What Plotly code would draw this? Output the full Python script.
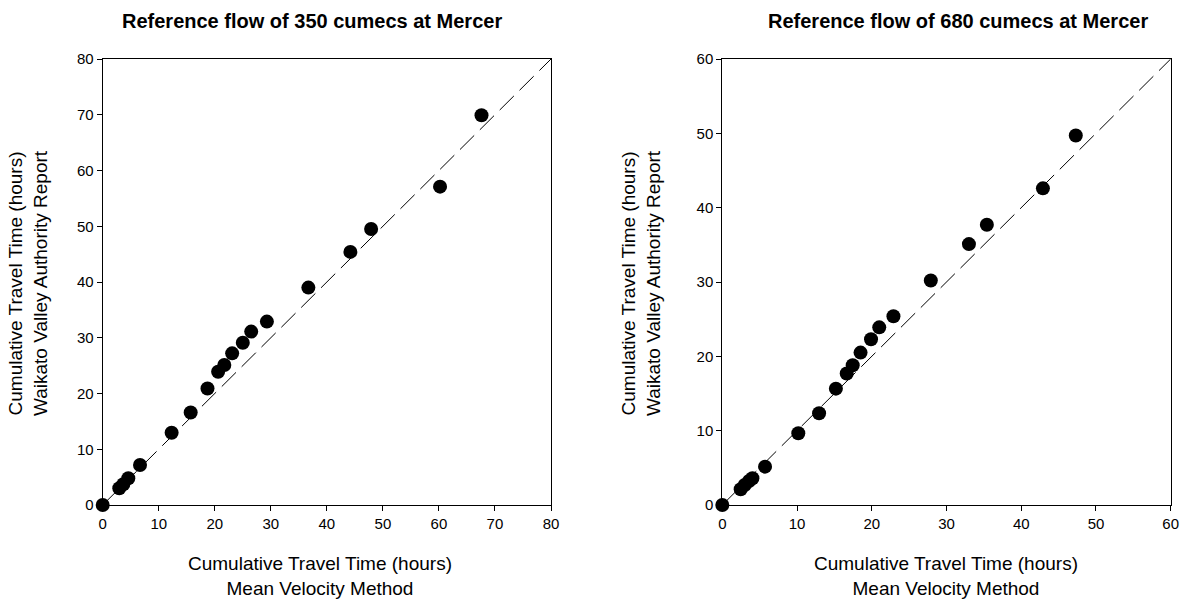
import plotly.graph_objects as go

# Left panel: 350 cumecs
mv_350 = [0, 2.96, 3.68, 4.57, 6.66, 12.3, 15.7, 18.7, 20.6, 21.7, 23.1, 25.0, 26.5, 29.3, 36.7, 44.2, 47.9, 60.2, 67.6]
wva_350 = [0, 3.0, 3.71, 4.79, 7.17, 12.97, 16.6, 20.9, 23.9, 25.1, 27.2, 29.1, 31.1, 32.9, 39.0, 45.4, 49.5, 57.1, 69.9]

# Right panel: 680 cumecs
mv_680 = [0, 2.46, 3.0, 3.58, 4.03, 5.72, 10.17, 12.95, 15.2, 16.65, 17.45, 18.5, 19.9, 21.0, 22.9, 27.9, 33.0, 35.4, 42.9, 47.3]
wva_680 = [0, 2.11, 2.7, 3.23, 3.59, 5.16, 9.65, 12.35, 15.65, 17.7, 18.8, 20.5, 22.3, 23.9, 25.4, 30.2, 35.1, 37.7, 42.6, 49.7]

range_350 = [0, 80]
range_680 = [0, 60]
ticks_350 = [0, 10, 20, 30, 40, 50, 60, 70, 80]
ticks_680 = [0, 10, 20, 30, 40, 50, 60]

title_350 = "Reference flow of 350 cumecs at Mercer"
title_680 = "Reference flow of 680 cumecs at Mercer"
x_title = "Cumulative Travel Time (hours)<br>Mean Velocity Method"
y_title = "Cumulative Travel Time (hours)<br>Waikato Valley Authority Report"

W, H = 1202, 600
FONT = "Liberation Sans, Arial, sans-serif"

fig = go.Figure()

# 1:1 lines
fig.add_trace(go.Scatter(x=range_350, y=range_350, mode="lines",
                         line=dict(color="black", width=1, dash="20px,8px"),
                         xaxis="x", yaxis="y", hoverinfo="skip", showlegend=False))
fig.add_trace(go.Scatter(x=range_680, y=range_680, mode="lines",
                         line=dict(color="black", width=1, dash="20px,8px"),
                         xaxis="x2", yaxis="y2", hoverinfo="skip", showlegend=False))

# points
fig.add_trace(go.Scatter(x=mv_350, y=wva_350, mode="markers",
                         marker=dict(color="black", size=14, symbol="circle"),
                         xaxis="x", yaxis="y", cliponaxis=False, showlegend=False))
fig.add_trace(go.Scatter(x=mv_680, y=wva_680, mode="markers",
                         marker=dict(color="black", size=14, symbol="circle"),
                         xaxis="x2", yaxis="y2", cliponaxis=False, showlegend=False))

def px_x(p):
    return p / W

def px_y(p):
    return 1 - p / H

axis_common = dict(showgrid=False, zeroline=False, showline=True, linecolor="black",
                   linewidth=1, mirror=True, ticks="outside", ticklen=5, tickwidth=1,
                   automargin=False,
                   tickcolor="black", tickfont=dict(family=FONT, size=15, color="black"))

fig.update_layout(
    width=W, height=H, autosize=False,
    margin=dict(l=0, r=0, t=0, b=0, pad=0),
    paper_bgcolor="white", plot_bgcolor="white",
    font=dict(family=FONT, color="black"),
    xaxis=dict(domain=[px_x(102.7), px_x(551)], range=range_350, tickvals=ticks_350,
               anchor="y", **axis_common),
    yaxis=dict(domain=[px_y(505), px_y(59)], range=range_350, tickvals=ticks_350,
               anchor="x", **axis_common),
    xaxis2=dict(domain=[px_x(722.3), px_x(1170.7)], range=range_680, tickvals=ticks_680,
                anchor="y2", **axis_common),
    yaxis2=dict(domain=[px_y(505), px_y(59)], range=range_680, tickvals=ticks_680,
                anchor="x2", **axis_common),
)

annotations = [
    dict(text="<b>" + title_350 + "</b>", x=px_x(312), y=px_y(21), font=dict(size=20)),
    dict(text="<b>" + title_680 + "</b>", x=px_x(958), y=px_y(21), font=dict(size=20)),
    dict(text=x_title, x=px_x(320), y=px_y(576), font=dict(size=19)),
    dict(text=x_title, x=px_x(946), y=px_y(576), font=dict(size=19)),
    dict(text=y_title, x=px_x(28), y=px_y(283), font=dict(size=19), textangle=-90),
    dict(text=y_title, x=px_x(641), y=px_y(283), font=dict(size=19), textangle=-90),
]
for a in annotations:
    a.update(xref="paper", yref="paper", showarrow=False, xanchor="center", yanchor="middle")
    a["font"].update(family=FONT, color="black")
fig.update_layout(annotations=annotations)

post = (
    "var gd=document.getElementById('{plot_id}');"
    "document.documentElement.style.margin='0';"
    "document.documentElement.style.padding='0';"
    "document.documentElement.style.overflow='hidden';"
    "document.body.style.margin='0';"
    "document.body.style.padding='0';"
    "document.body.style.overflow='hidden';"
    "var w=window.innerWidth,h=window.innerHeight;"
    "gd.style.width=w+'px';gd.style.height=h+'px';"
    "Plotly.relayout(gd,{width:w,height:h});"
)

fig.write_html("out.html", post_script=post,
               config={"displayModeBar": False})
